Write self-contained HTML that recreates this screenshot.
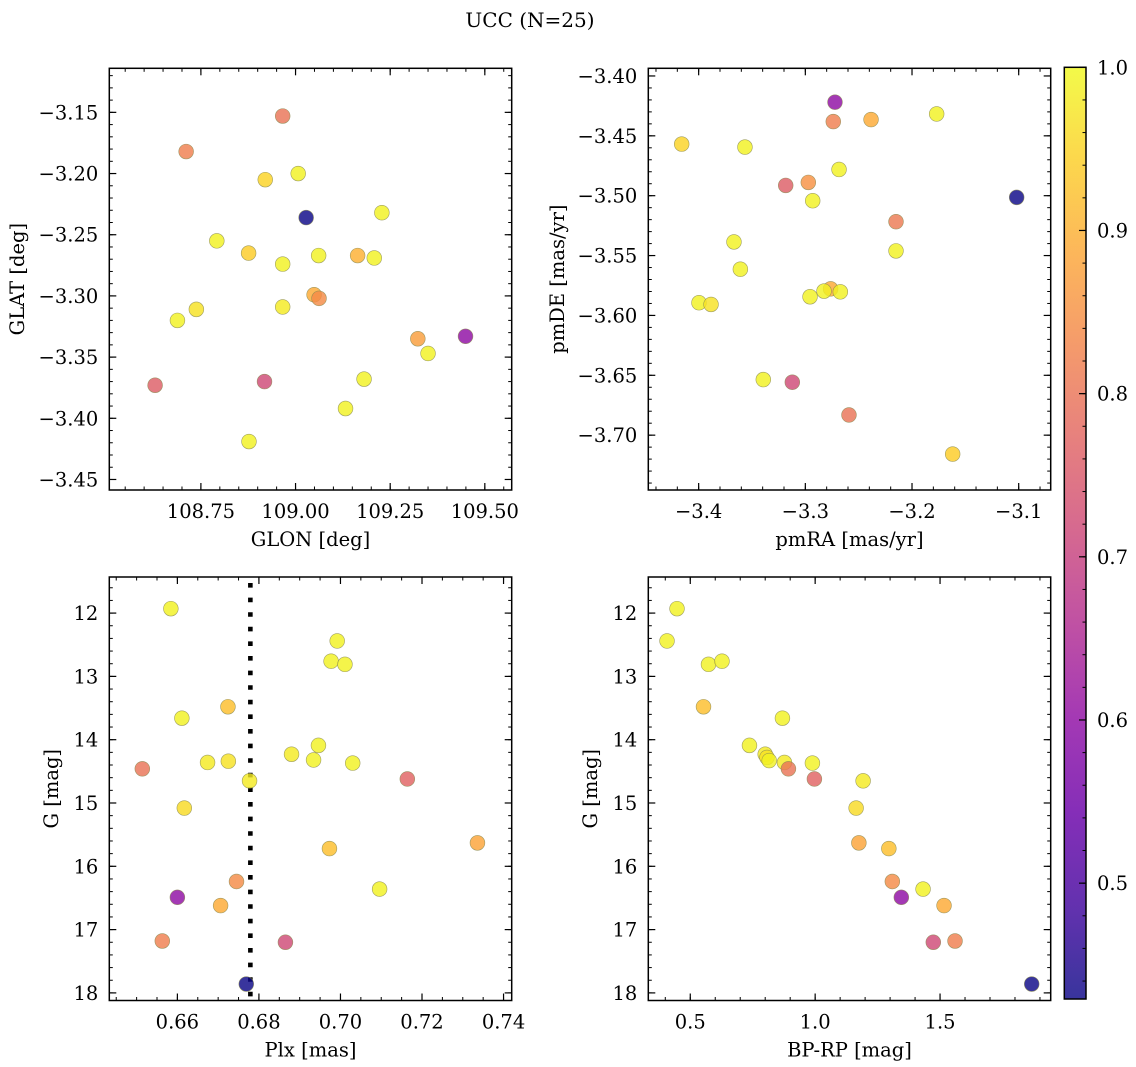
<!DOCTYPE html>
<html><head><meta charset="utf-8">
<style>
html,body{margin:0;padding:0;background:#fff;}
svg{display:block;font-family:"DejaVu Serif","Liberation Serif",serif;}
</style></head>
<body>
<svg id="fig" width="1136" height="1067" viewBox="0 0 1136 1067" xmlns="http://www.w3.org/2000/svg">
<defs>
<linearGradient id="plasma" x1="0" y1="1" x2="0" y2="0">
<stop offset="0" stop-color="#0d0887"/><stop offset="0.1" stop-color="#41049d"/><stop offset="0.2" stop-color="#6a00a8"/><stop offset="0.3" stop-color="#8f0da4"/><stop offset="0.4" stop-color="#b12a90"/><stop offset="0.5" stop-color="#cc4778"/><stop offset="0.6" stop-color="#e16462"/><stop offset="0.7" stop-color="#f2844b"/><stop offset="0.8" stop-color="#fca636"/><stop offset="0.9" stop-color="#fcce25"/><stop offset="1" stop-color="#f0f921"/>
</linearGradient>
</defs>
<text x="530" y="27" font-size="20" text-anchor="middle">UCC (N=25)</text>
<g id="root"></g>
</svg>
<script>
// ---- data: panel 1 (GLON / GLAT) ----
const glon = [108.966,108.711,109.007,108.920,109.028,109.228,108.792,108.876,108.966,109.061,109.164,109.208,109.049,109.062,108.966,108.738,108.688,109.323,109.350,109.449,108.629,108.918,109.181,109.132,108.877];
const glat = [-3.153,-3.182,-3.200,-3.205,-3.236,-3.232,-3.255,-3.265,-3.274,-3.267,-3.267,-3.269,-3.299,-3.302,-3.309,-3.311,-3.320,-3.335,-3.347,-3.333,-3.373,-3.370,-3.368,-3.392,-3.419];
const prob1 = [0.80,0.82,0.99,0.95,0.43,0.99,0.99,0.94,0.99,0.99,0.90,0.99,0.89,0.84,0.98,0.97,0.99,0.87,0.99,0.60,0.76,0.72,0.99,0.99,0.99];
// ---- data: panel 2 (pmRA / pmDE) ----
const pmra = [-3.2722,-3.2738,-3.2384,-3.1769,-3.4159,-3.3566,-3.2684,-3.3184,-3.2972,-3.2931,-3.1019,-3.2150,-3.3669,-3.2150,-3.3609,-3.2763,-3.2825,-3.2672,-3.2956,-3.3997,-3.3884,-3.3394,-3.3122,-3.2591,-3.1619];
const pmde = [-3.4219,-3.4381,-3.4364,-3.4317,-3.4569,-3.4594,-3.4781,-3.4914,-3.4889,-3.5042,-3.5014,-3.5217,-3.5386,-3.5461,-3.5614,-3.5778,-3.5797,-3.5803,-3.5844,-3.5894,-3.5908,-3.6536,-3.6558,-3.6831,-3.7158];
const prob2 = [0.60,0.82,0.89,0.99,0.95,0.99,0.99,0.76,0.85,0.99,0.43,0.81,0.99,0.99,0.99,0.89,0.99,0.99,0.99,0.99,0.97,0.99,0.72,0.80,0.94];
// ---- data: panel 3 (Plx / G) ----
const plx = [0.6584,0.6992,0.6977,0.7011,0.6724,0.6611,0.6946,0.6880,0.6934,0.6674,0.6725,0.7030,0.6514,0.7164,0.6777,0.6617,0.7336,0.6973,0.7096,0.6745,0.6600,0.6706,0.6563,0.6865,0.6769];
const g3 = [11.93,12.44,12.76,12.81,13.48,13.66,14.09,14.23,14.32,14.36,14.34,14.37,14.46,14.62,14.65,15.08,15.63,15.72,16.36,16.24,16.49,16.62,17.18,17.20,17.86];
const prob3 = [0.99,0.99,0.99,0.99,0.92,0.99,0.99,0.98,0.99,0.98,0.97,0.99,0.80,0.77,0.98,0.96,0.88,0.92,0.99,0.84,0.60,0.89,0.82,0.72,0.43];
const plxRef = [0.6779];
// ---- data: panel 4 (BP-RP / G) ----
const bprp = [0.447,0.407,0.573,0.627,0.553,0.869,0.737,0.800,0.807,0.816,0.877,0.989,0.893,0.997,1.192,1.164,1.175,1.295,1.309,1.432,1.345,1.516,1.473,1.560,1.867];
const g4 = [11.93,12.44,12.81,12.76,13.48,13.66,14.09,14.23,14.28,14.33,14.36,14.37,14.46,14.62,14.65,15.08,15.63,15.72,16.24,16.36,16.49,16.62,17.20,17.18,17.86];
const prob4 = [0.99,0.99,0.99,0.99,0.92,0.99,0.99,0.98,0.97,0.99,0.98,0.99,0.80,0.77,0.98,0.96,0.88,0.92,0.84,0.99,0.60,0.89,0.72,0.82,0.43];
// ---- tick labels ----
const p1xTicks = [108.75,109.00,109.25,109.50];
const p1xLabels = ["108.75","109.00","109.25","109.50"];
const p1yTicks = [-3.15,-3.20,-3.25,-3.30,-3.35,-3.40,-3.45];
const p1yLabels = ["−3.15","−3.20","−3.25","−3.30","−3.35","−3.40","−3.45"];
const p2xTicks = [-3.4,-3.3,-3.2,-3.1];
const p2xLabels = ["−3.4","−3.3","−3.2","−3.1"];
const p2yTicks = [-3.40,-3.45,-3.50,-3.55,-3.60,-3.65,-3.70];
const p2yLabels = ["−3.40","−3.45","−3.50","−3.55","−3.60","−3.65","−3.70"];
const p3xTicks = [0.66,0.68,0.70,0.72,0.74];
const p3xLabels = ["0.66","0.68","0.70","0.72","0.74"];
const gTicks = [12,13,14,15,16,17,18];
const gLabels = ["12","13","14","15","16","17","18"];
const p4xTicks = [0.5,1.0,1.5];
const p4xLabels = ["0.5","1.0","1.5"];
const cbTicks = [0.5,0.6,0.7,0.8,0.9,1.0];
const cbLabels = ["0.5","0.6","0.7","0.8","0.9","1.0"];

const FS = 19.5;
const NS = "http://www.w3.org/2000/svg";
const root = document.getElementById('root');
function mk(tag, attrs, parent){ const e=document.createElementNS(NS,tag); for(const k in attrs) e.setAttribute(k,attrs[k]); (parent||root).appendChild(e); return e; }
function lin(d0,d1,r0,r1){ return v => r0 + (v-d0)/(d1-d0)*(r1-r0); }

const VMIN=0.429, VMAX=1.0;
const stops=["#0d0887","#41049d","#6a00a8","#8f0da4","#b12a90","#cc4778","#e16462","#f2844b","#fca636","#fcce25","#f0f921"];
function hex2rgb(h){return [1,3,5].map(i=>parseInt(h.substr(i,2),16));}
function cmap(p){
  let t=(p-VMIN)/(VMAX-VMIN); t=Math.max(0,Math.min(1,t));
  const s=t*10, i=Math.min(9,Math.floor(s)), f=s-i;
  const a=hex2rgb(stops[i]), b=hex2rgb(stops[i+1]);
  return 'rgb('+a.map((v,k)=>Math.round(v+(b[k]-v)*f)).join(',')+')';
}

function panel(o){
  const g=mk('g',{});
  
  
  const X=lin(o.xd[0],o.xd[1],o.L,o.R), Y=lin(o.yd[0],o.yd[1],o.T,o.B);
  const xmin=Math.min(...o.xd), xmax=Math.max(...o.xd), ymin=Math.min(...o.yd), ymax=Math.max(...o.yd);
  for(let v=Math.ceil(xmin/o.xm-1e-6)*o.xm; v<=xmax; v+=o.xm){
    const px=X(v);
    mk('line',{x1:px,x2:px,y1:o.B,y2:o.B-3.5,stroke:'#000','stroke-width':1},g);
    mk('line',{x1:px,x2:px,y1:o.T,y2:o.T+3.5,stroke:'#000','stroke-width':1},g);
  }
  for(let v=Math.ceil(ymin/o.ym-1e-6)*o.ym; v<=ymax; v+=o.ym){
    const py=Y(v);
    mk('line',{x1:o.L,x2:o.L+3.5,y1:py,y2:py,stroke:'#000','stroke-width':1},g);
    mk('line',{x1:o.R,x2:o.R-3.5,y1:py,y2:py,stroke:'#000','stroke-width':1},g);
  }
  o.xt.forEach((v,i)=>{
    const px=X(v);
    mk('line',{x1:px,x2:px,y1:o.B,y2:o.B-7,stroke:'#000','stroke-width':1.2},g);
    mk('line',{x1:px,x2:px,y1:o.T,y2:o.T+7,stroke:'#000','stroke-width':1.2},g);
    const t=mk('text',{x:px,y:o.B+28,'font-size':FS,'text-anchor':'middle'},g);
    
    
    t.textContent=o.xl[i];
  });
  o.yt.forEach((v,i)=>{
    const py=Y(v);
    mk('line',{x1:o.L,x2:o.L+7,y1:py,y2:py,stroke:'#000','stroke-width':1.2},g);
    mk('line',{x1:o.R,x2:o.R-7,y1:py,y2:py,stroke:'#000','stroke-width':1.2},g);
    const t=mk('text',{x:o.L-11,y:py+7,'font-size':FS,'text-anchor':'end'},g);
    
    
    t.textContent=o.yl[i];
  });
  if(o.vline){
    o.vline.forEach(v=>{
      const l=mk('line',{x1:X(v),x2:X(v),y1:o.T+6,y2:o.B,stroke:'#000','stroke-width':4.6,'stroke-dasharray':'4.6 10'},g);
      
      
    });
  }
  o.xs.forEach((v,i)=>{
    const c=mk('circle',{cx:X(v),cy:Y(o.ys[i]),r:7.4,fill:cmap(o.c[i]),'fill-opacity':0.82,stroke:'#8a8a50','stroke-width':0.6,'stroke-opacity':0.8},g);
    
    
  });
  const fr=mk('rect',{x:o.L,y:o.T,width:o.R-o.L,height:o.B-o.T,fill:'none',stroke:'#000','stroke-width':1.5},g);
  
  
  const xl=mk('text',{x:(o.L+o.R)/2,y:o.B+56,'font-size':FS,'text-anchor':'middle'},g);
  
  
  xl.textContent=o.xlab;
  const yl=mk('text',{x:0,y:0,'font-size':FS,'text-anchor':'middle',transform:'translate('+o.ylx+','+((o.T+o.B)/2)+') rotate(-90)'},g);
  
  
  yl.textContent=o.ylab;
}

panel({name:'glon-glat-panel',L:109.3,R:511.7,T:68.3,B:490,xd:[108.508,109.571],yd:[-3.114,-3.4586],xm:0.05,ym:0.01,
  xt:p1xTicks,xl:p1xLabels,yt:p1yTicks,yl:p1yLabels,xs:glon,ys:glat,c:prob1,xlab:'GLON [deg]',ylab:'GLAT [deg]',ylx:24});
panel({name:'pmra-pmde-panel',L:648.3,R:1050.7,T:68.3,B:490,xd:[-3.4472,-3.070],yd:[-3.3936,-3.7458],xm:0.02,ym:0.01,
  xt:p2xTicks,xl:p2xLabels,yt:p2yTicks,yl:p2yLabels,xs:pmra,ys:pmde,c:prob2,xlab:'pmRA [mas/yr]',ylab:'pmDE [mas/yr]',ylx:564});
panel({name:'plx-g-panel',L:109.3,R:511.7,T:577,B:1000.5,xd:[0.6433,0.742],yd:[11.43,18.12],xm:0.005,ym:0.2,
  xt:p3xTicks,xl:p3xLabels,yt:gTicks,yl:gLabels,xs:plx,ys:g3,c:prob3,xlab:'Plx [mas]',ylab:'G [mag]',ylx:58,vline:plxRef});
panel({name:'bprp-g-panel',L:648.3,R:1050.7,T:577,B:1000.5,xd:[0.332,1.943],yd:[11.43,18.12],xm:0.1,ym:0.2,
  xt:p4xTicks,xl:p4xLabels,yt:gTicks,yl:gLabels,xs:bprp,ys:g4,c:prob4,xlab:'BP-RP [mag]',ylab:'G [mag]',ylx:597});

(function(){
  const g=mk('g',{});
  
  
  const L=1064.3,R=1086,T=67.3,B=999;
  const Y=lin(VMAX,VMIN,T,B);
  mk('rect',{x:L,y:T,width:R-L,height:B-T,fill:'url(#plasma)','fill-opacity':0.82},g);
  for(let v=0.44; v<=1.0001; v+=0.02){
    mk('line',{x1:R,x2:R-3.5,y1:Y(v),y2:Y(v),stroke:'#000','stroke-width':1},g);
  }
  cbTicks.forEach((v,i)=>{
    mk('line',{x1:R,x2:R-7,y1:Y(v),y2:Y(v),stroke:'#000','stroke-width':1.2},g);
    const t=mk('text',{x:R+11,y:Y(v)+7,'font-size':FS},g);
    
    
    t.textContent=cbLabels[i];
  });
  mk('rect',{x:L,y:T,width:R-L,height:B-T,fill:'none',stroke:'#000','stroke-width':1.5},g);
})();
</script>
</body></html>
